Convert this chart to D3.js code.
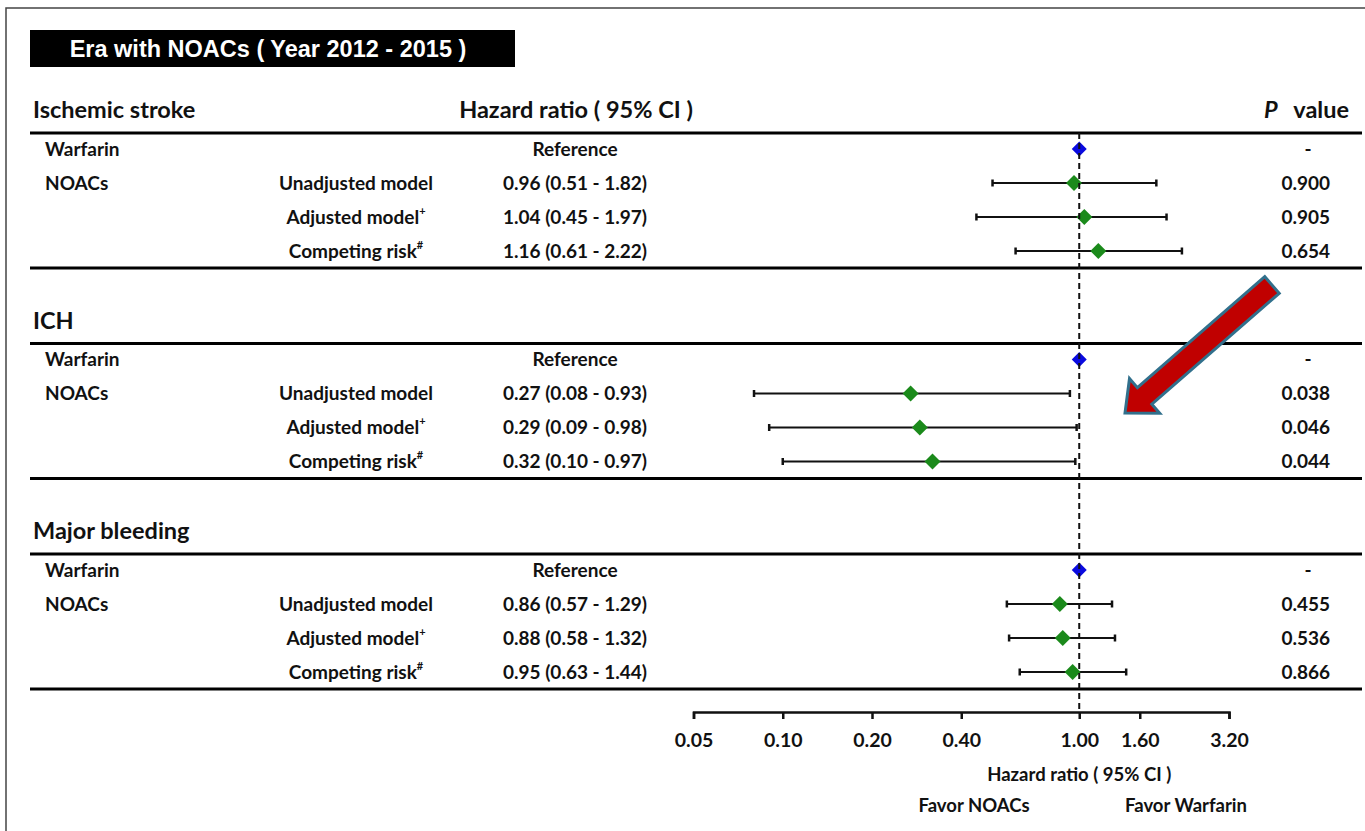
<!DOCTYPE html>
<html>
<head>
<meta charset="utf-8">
<script src="https://cdn.jsdelivr.net/npm/d3@7"></script>
<style>
  html, body { margin: 0; padding: 0; background: #fff; }
  svg { display: block; }
  text { font-family: Lato, "Open Sans", sans-serif; font-weight: bold; fill: #111; }
</style>
</head>
<body>
<svg id="chart" width="1365" height="831"></svg>
<script>
// Outcome groups and model rows
const groups = ["Ischemic stroke", "ICH", "Major bleeding"];
const drugs = ["Warfarin", "NOACs"];
const models = ["Unadjusted model", "Adjusted model", "Competing risk"];
const modelMarks = ["", "+", "#"];

// Hazard ratios with 95% CI, NOACs vs warfarin (rows follow `models`)
const hazardRatio = [[0.96, 1.04, 1.16], [0.27, 0.29, 0.32], [0.86, 0.88, 0.95]];
const ciLower     = [[0.51, 0.45, 0.61], [0.08, 0.09, 0.10], [0.57, 0.58, 0.63]];
const ciUpper     = [[1.82, 1.97, 2.22], [0.93, 0.98, 0.97], [1.29, 1.32, 1.44]];
const pValues     = [["0.900", "0.905", "0.654"], ["0.038", "0.046", "0.044"], ["0.455", "0.536", "0.866"]];
const referenceHR = 1.00;

// Axis tick labels
const tickValues = [0.05, 0.10, 0.20, 0.40, 1.00, 1.60, 3.20];

const svg = d3.select("#chart");

const fsHead = "23.5px", fsRow = "19px";

// Frame
svg.append("rect").attr("x", 6).attr("y", 8).attr("width", 1400).attr("height", 900)
  .attr("fill", "none").attr("stroke", "#444").attr("stroke-width", 1.5);

// Title banner
svg.append("rect").attr("x", 30).attr("y", 30).attr("width", 485).attr("height", 37).attr("fill", "#000");
svg.append("text").attr("x", 268).attr("y", 57).attr("text-anchor", "middle")
  .style("font-family", "'Liberation Sans', Arial, sans-serif").style("font-weight", "bold").style("font-size", "23.5px")
  .style("fill", "#fff").text("Era with NOACs ( Year 2012 - 2015 )");

// Scales
const x = d3.scaleLog().domain([0.05, 3.2]).range([693.5, 1229]);
const groupTop = d3.scaleLinear().domain([0, 1]).range([118, 328.5]);  // header baseline per group
const rowOffset = d3.scaleLinear().domain([0, 1]).range([31, 65]);     // row centre within group

const lineLeft = 30, lineRight = 1362;
const colDrug = 45, colModel = 356, colHR = 575, colP = 1330;

// Diamond path
const diamond = (s) => `M0,${-s}L${s},0L0,${s}L${-s},0Z`;

groups.forEach((g, gi) => {
  const top = groupTop(gi);
  const G = svg.append("g");

  G.append("text").attr("x", 33).attr("y", top).style("font-size", fsHead).text(g);
  if (gi === 0) {
    G.append("text").attr("x", colHR + 1).attr("y", top).attr("text-anchor", "middle")
      .style("font-size", fsHead).text("Hazard ratio ( 95% CI )");
    G.append("text").attr("x", 1264).attr("y", top).style("font-size", fsHead).style("font-style", "italic").text("P");
    G.append("text").attr("x", 1349).attr("y", top).attr("text-anchor", "end").style("font-size", fsHead).text("value");
  }

  // Rules above and below the block
  G.append("line").attr("x1", lineLeft).attr("x2", lineRight).attr("y1", top + 15).attr("y2", top + 15)
    .attr("stroke", "#000").attr("stroke-width", 3);
  G.append("line").attr("x1", lineLeft).attr("x2", lineRight).attr("y1", top + 150).attr("y2", top + 150)
    .attr("stroke", "#000").attr("stroke-width", 3);

  // Reference row (warfarin)
  const y0 = top + rowOffset(0);
  G.append("text").attr("x", colDrug).attr("y", y0 + 6.5).style("font-size", fsRow).text(drugs[0]);
  G.append("text").attr("x", colHR).attr("y", y0 + 6.5).attr("text-anchor", "middle").style("font-size", fsRow).text("Reference");
  G.append("text").attr("x", 1308).attr("y", y0 + 6.5).attr("text-anchor", "middle").style("font-size", fsRow).text("-");
  G.append("path").attr("d", diamond(7.5)).attr("transform", `translate(${x(referenceHR)},${y0})`).attr("fill", "#0a0ae0");

  // Model rows (NOACs)
  models.forEach((m, mi) => {
    const y = top + rowOffset(mi + 1);
    if (mi === 0) G.append("text").attr("x", colDrug).attr("y", y + 6.5).style("font-size", fsRow).text(drugs[1]);
    const t = G.append("text").attr("x", colModel).attr("y", y + 6.5).attr("text-anchor", "middle").style("font-size", fsRow);
    t.append("tspan").text(m);
    if (modelMarks[mi]) t.append("tspan").attr("dy", -9).style("font-size", "11px").text(modelMarks[mi]);

    const hr = hazardRatio[gi][mi], lo = ciLower[gi][mi], hi = ciUpper[gi][mi];
    G.append("text").attr("x", colHR).attr("y", y + 6.5).attr("text-anchor", "middle").style("font-size", fsRow)
      .text(`${hr.toFixed(2)} (${lo.toFixed(2)} - ${hi.toFixed(2)})`);
    G.append("text").attr("x", colP).attr("y", y + 6.5).attr("text-anchor", "end").style("font-size", fsRow)
      .text(pValues[gi][mi]);

    // CI whisker with end caps
    G.append("line").attr("x1", x(lo)).attr("x2", x(hi)).attr("y1", y).attr("y2", y).attr("stroke", "#111").attr("stroke-width", 2.2);
    [lo, hi].forEach(v => G.append("line").attr("x1", x(v)).attr("x2", x(v)).attr("y1", y - 3.5).attr("y2", y + 3.5)
      .attr("stroke", "#111").attr("stroke-width", 2.5));
    G.append("path").attr("d", diamond(8)).attr("transform", `translate(${x(hr)},${y})`).attr("fill", "#1b8a1b");
  });
});

// Line of no effect
const axisY = 712;
svg.append("line").attr("x1", x(referenceHR)).attr("x2", x(referenceHR)).attr("y1", 133).attr("y2", axisY)
  .attr("stroke", "#111").attr("stroke-width", 2).attr("stroke-dasharray", "6,4");

// Axis
const axis = svg.append("g").attr("transform", `translate(0,${axisY})`)
  .call(d3.axisBottom(x).tickValues(tickValues).tickSize(7).tickSizeOuter(7).tickPadding(14).tickFormat(d3.format(".2f")));
axis.select(".domain").attr("stroke", "#111").attr("stroke-width", 2.5);
axis.selectAll(".tick line").attr("stroke", "#111").attr("stroke-width", 2.5);
axis.selectAll(".tick text").style("font-family", "Lato, 'Open Sans', sans-serif").style("font-weight", "bold")
  .style("font-size", "19.5px").attr("fill", "#111");

svg.append("text").attr("x", x(referenceHR)).attr("y", 781).attr("text-anchor", "middle").style("font-size", "18.5px")
  .text("Hazard ratio ( 95% CI )");
svg.append("text").attr("x", 974).attr("y", 812).attr("text-anchor", "middle").style("font-size", "18.5px").text("Favor NOACs");
svg.append("text").attr("x", 1186).attr("y", 812).attr("text-anchor", "middle").style("font-size", "18.5px").text("Favor Warfarin");

// Callout arrow pointing at the ICH rows
(function () {
  const tail = [1272, 285], tip = [1125, 413];
  const dx = tip[0] - tail[0], dy = tip[1] - tail[1];
  const len = Math.hypot(dx, dy);
  const angle = Math.atan2(dy, dx) * 180 / Math.PI;
  const shaftHalf = 11, headHalf = 23, headLen = 26;
  const pts = [
    [0, -shaftHalf], [len - headLen, -shaftHalf], [len - headLen, -headHalf], [len, 0],
    [len - headLen, headHalf], [len - headLen, shaftHalf], [0, shaftHalf]
  ];
  svg.append("polygon").attr("points", pts.map(p => p.join(",")).join(" "))
    .attr("transform", `translate(${tail[0]},${tail[1]}) rotate(${angle})`)
    .attr("fill", "#c00000").attr("stroke", "#31708c").attr("stroke-width", 3).attr("stroke-linejoin", "miter");
})();
</script>
</body>
</html>
